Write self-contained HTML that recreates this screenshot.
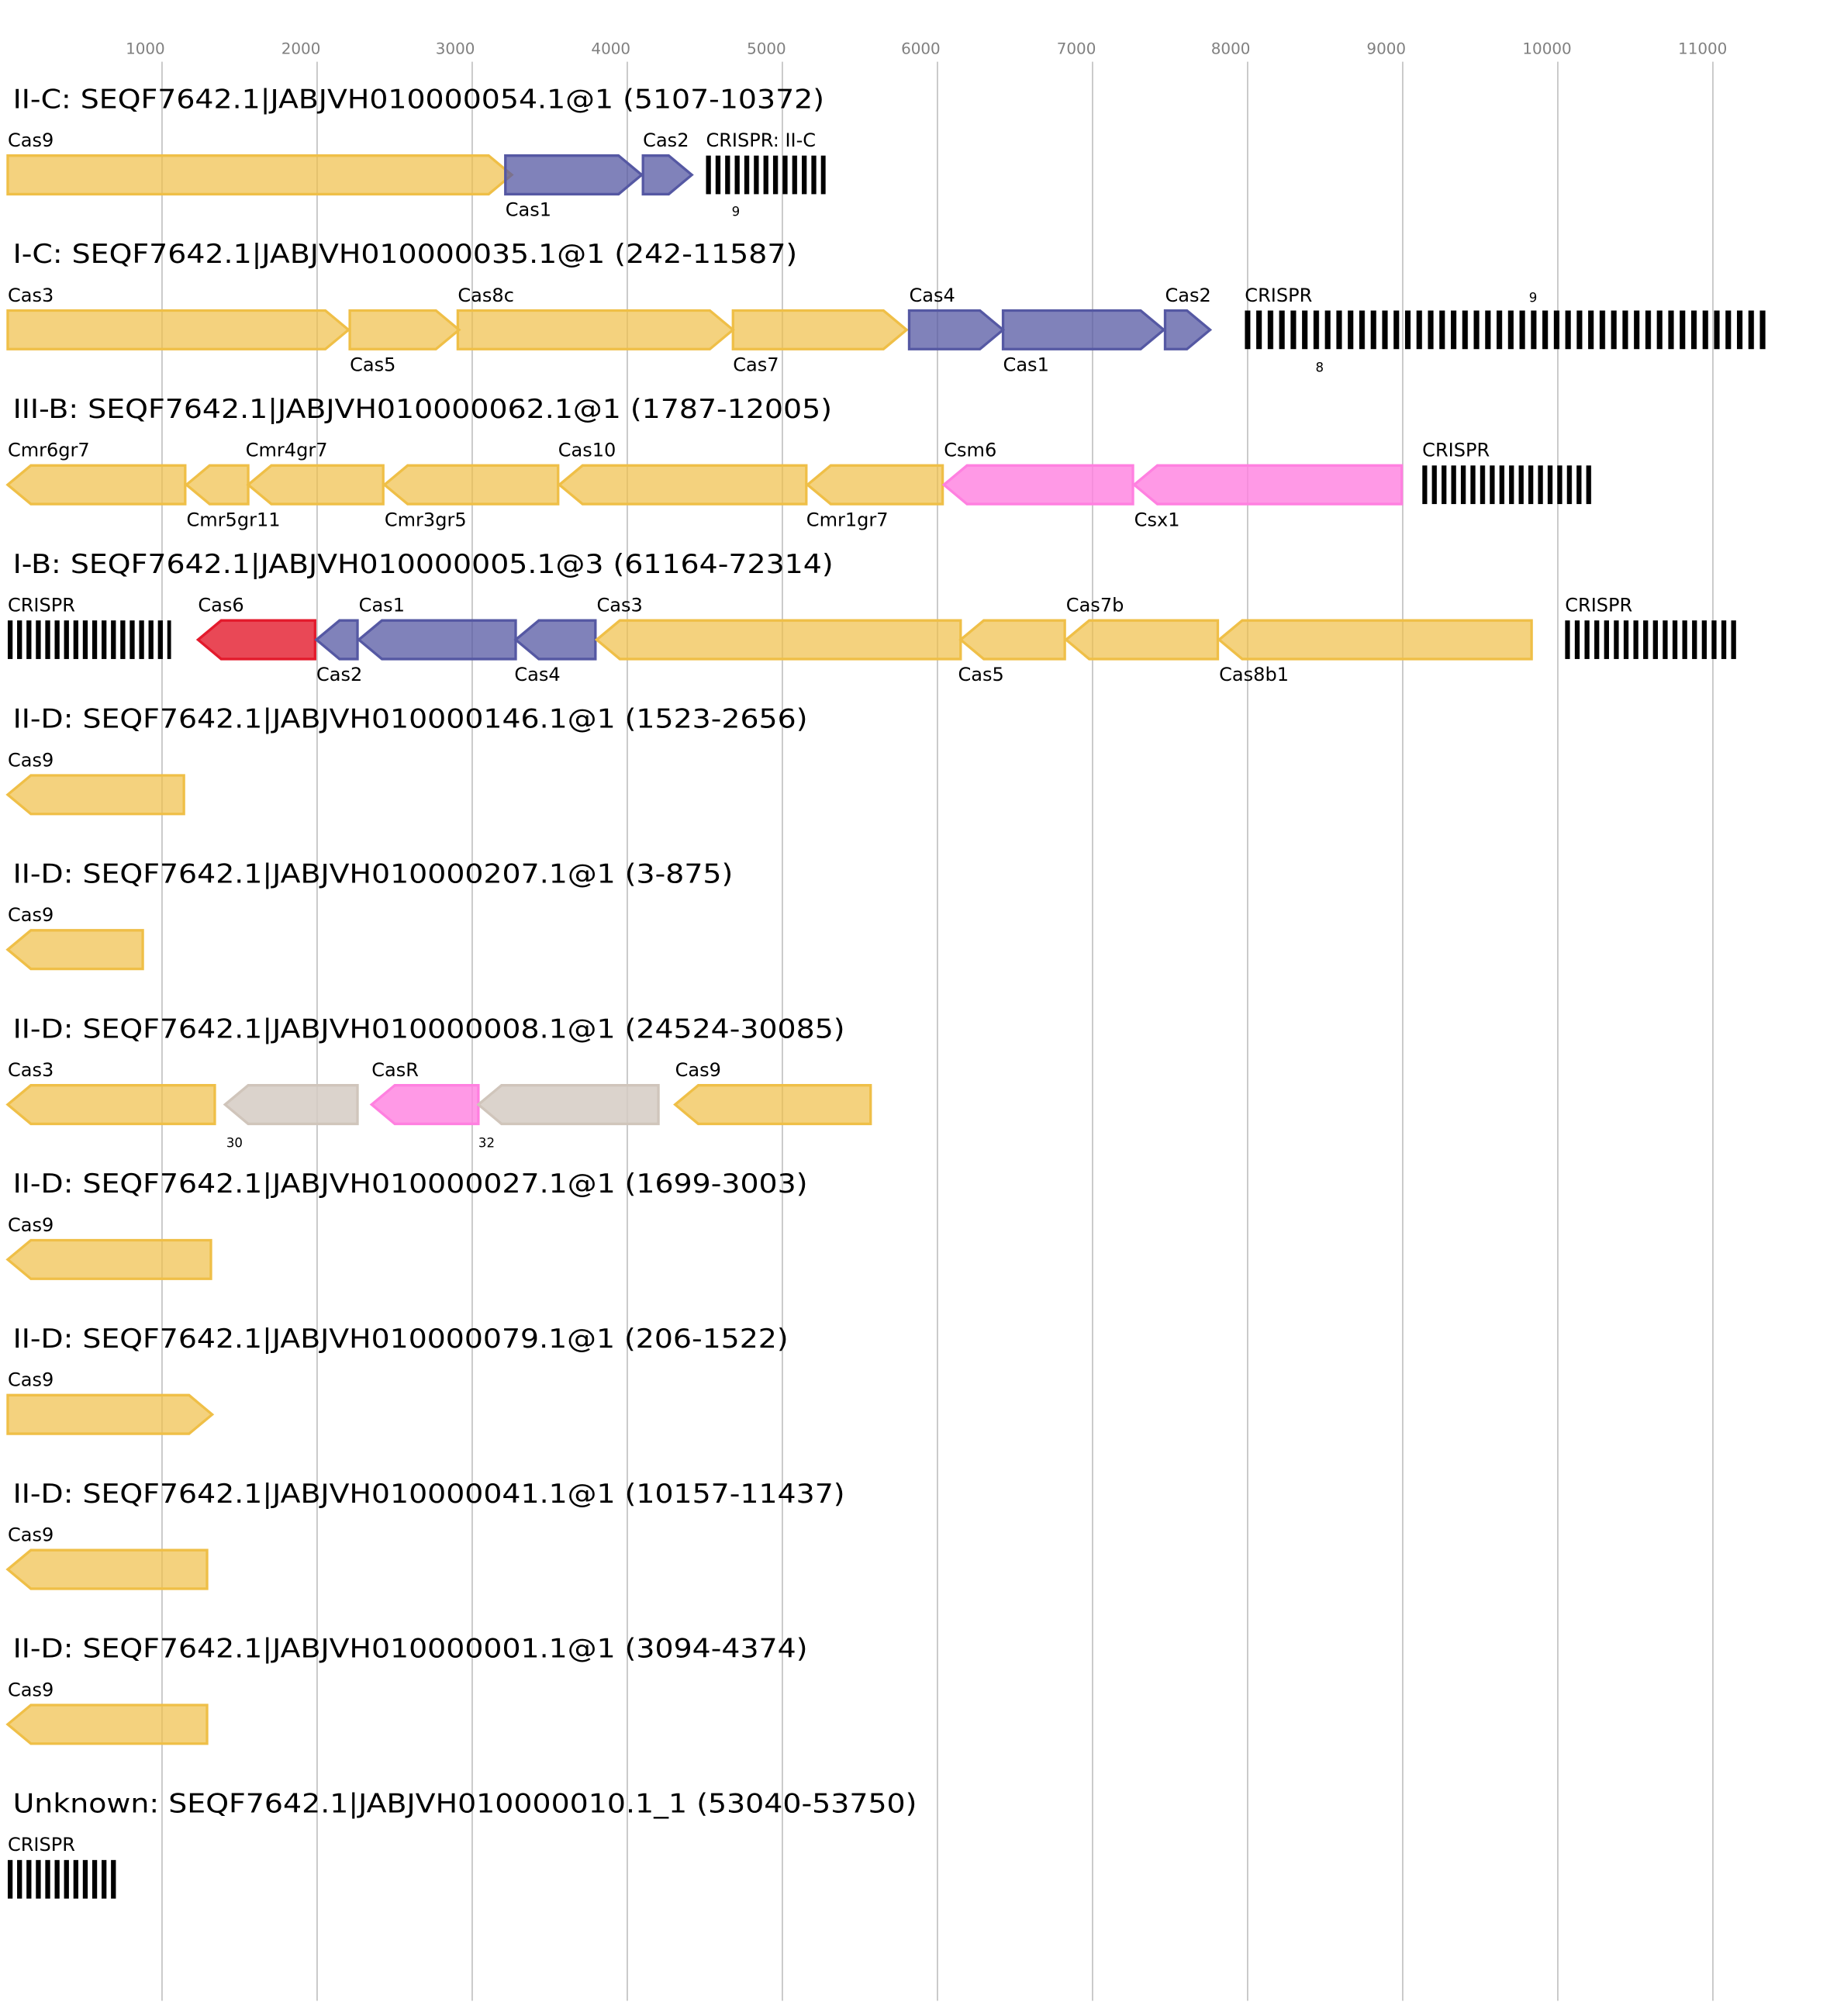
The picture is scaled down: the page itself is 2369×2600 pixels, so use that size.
<!DOCTYPE html>
<html><head><meta charset="utf-8"><style>html,body{margin:0;padding:0;background:#fff}svg{display:block}</style></head>
<body>
<svg xmlns="http://www.w3.org/2000/svg" width="2369" height="2600" viewBox="0 0 1428.5 1567.8" font-family="DejaVu Sans, Liberation Sans, sans-serif">
<defs>
<pattern id="cr" patternUnits="userSpaceOnUse" x="6" y="0" width="7.3" height="10"><rect x="0" y="0" width="3.8" height="10" fill="#000"/></pattern>
<pattern id="cr0" patternUnits="userSpaceOnUse" x="549" y="0" width="7.45" height="10"><rect x="0" y="0" width="3.8" height="10" fill="#000"/></pattern>
<pattern id="cr1" patternUnits="userSpaceOnUse" x="968" y="0" width="8.9" height="10"><rect x="0" y="0" width="4.3" height="10" fill="#000"/></pattern>
<pattern id="cr2" patternUnits="userSpaceOnUse" x="1106" y="0" width="7.5" height="10"><rect x="0" y="0" width="3.8" height="10" fill="#000"/></pattern>
<pattern id="cr3" patternUnits="userSpaceOnUse" x="1217" y="0" width="7.6" height="10"><rect x="0" y="0" width="3.8" height="10" fill="#000"/></pattern>
</defs>
<g stroke="#c0c0c0" stroke-width="1">
<line x1="126" y1="48" x2="126" y2="1556"/><line x1="246.6" y1="48" x2="246.6" y2="1556"/><line x1="367.2" y1="48" x2="367.2" y2="1556"/><line x1="487.8" y1="48" x2="487.8" y2="1556"/><line x1="608.4" y1="48" x2="608.4" y2="1556"/><line x1="729" y1="48" x2="729" y2="1556"/><line x1="849.6" y1="48" x2="849.6" y2="1556"/><line x1="970.2" y1="48" x2="970.2" y2="1556"/><line x1="1090.8" y1="48" x2="1090.8" y2="1556"/><line x1="1211.4" y1="48" x2="1211.4" y2="1556"/><line x1="1332" y1="48" x2="1332" y2="1556"/>
</g>
<g fill="#808080" font-size="12" text-anchor="middle">
<text x="113" y="42">1000</text><text x="234" y="42">2000</text><text x="354" y="42">3000</text><text x="475" y="42">4000</text><text x="596" y="42">5000</text><text x="716" y="42">6000</text><text x="837" y="42">7000</text><text x="957" y="42">8000</text><text x="1078" y="42">9000</text><text x="1203" y="42">10000</text><text x="1324" y="42">11000</text>
</g>
<g font-size="20.5" fill="#000">
<text x="10" y="84" textLength="631" lengthAdjust="spacingAndGlyphs">II-C: SEQF7642.1|JABJVH010000054.1@1 (5107-10372)</text>
<text x="10" y="204.5" textLength="610" lengthAdjust="spacingAndGlyphs">I-C: SEQF7642.1|JABJVH010000035.1@1 (242-11587)</text>
<text x="10" y="325" textLength="637" lengthAdjust="spacingAndGlyphs">III-B: SEQF7642.1|JABJVH010000062.1@1 (1787-12005)</text>
<text x="10" y="445.5" textLength="638" lengthAdjust="spacingAndGlyphs">I-B: SEQF7642.1|JABJVH010000005.1@3 (61164-72314)</text>
<text x="10" y="566" textLength="618" lengthAdjust="spacingAndGlyphs">II-D: SEQF7642.1|JABJVH010000146.1@1 (1523-2656)</text>
<text x="10" y="686.5" textLength="560" lengthAdjust="spacingAndGlyphs">II-D: SEQF7642.1|JABJVH010000207.1@1 (3-875)</text>
<text x="10" y="807" textLength="647" lengthAdjust="spacingAndGlyphs">II-D: SEQF7642.1|JABJVH010000008.1@1 (24524-30085)</text>
<text x="10" y="927.5" textLength="618" lengthAdjust="spacingAndGlyphs">II-D: SEQF7642.1|JABJVH010000027.1@1 (1699-3003)</text>
<text x="10" y="1048" textLength="603" lengthAdjust="spacingAndGlyphs">II-D: SEQF7642.1|JABJVH010000079.1@1 (206-1522)</text>
<text x="10" y="1168.5" textLength="647" lengthAdjust="spacingAndGlyphs">II-D: SEQF7642.1|JABJVH010000041.1@1 (10157-11437)</text>
<text x="10" y="1289" textLength="618" lengthAdjust="spacingAndGlyphs">II-D: SEQF7642.1|JABJVH010000001.1@1 (3094-4374)</text>
<text x="10" y="1409.5" textLength="703" lengthAdjust="spacingAndGlyphs">Unknown: SEQF7642.1|JABJVH010000010.1_1 (53040-53750)</text>
</g>
<g stroke-width="2">
<!-- row0 -->
<g>
<polygon points="6,121 380,121 398,136 380,151 6,151" fill="#efbf47" fill-opacity="0.7" stroke="#efbf47"/>
<polygon points="393,121 481,121 499,136 481,151 393,151" fill="#5558a3" fill-opacity="0.75" stroke="#5558a3"/>
<polygon points="500,121 520,121 538,136 520,151 500,151" fill="#5558a3" fill-opacity="0.75" stroke="#5558a3"/>
<rect x="549" y="121" width="93" height="30" fill="url(#cr0)" stroke="none"/>
</g>
<g transform="translate(0,120.5)">
<polygon points="6,121 253,121 271,136 253,151 6,151" fill="#efbf47" fill-opacity="0.7" stroke="#efbf47"/>
<polygon points="272,121 339,121 357,136 339,151 272,151" fill="#efbf47" fill-opacity="0.7" stroke="#efbf47"/>
<polygon points="356,121 552,121 570,136 552,151 356,151" fill="#efbf47" fill-opacity="0.7" stroke="#efbf47"/>
<polygon points="570,121 687,121 705,136 687,151 570,151" fill="#efbf47" fill-opacity="0.7" stroke="#efbf47"/>
<polygon points="707,121 762,121 780,136 762,151 707,151" fill="#5558a3" fill-opacity="0.75" stroke="#5558a3"/>
<polygon points="780,121 887,121 905,136 887,151 780,151" fill="#5558a3" fill-opacity="0.75" stroke="#5558a3"/>
<polygon points="906,121 923,121 941,136 923,151 906,151" fill="#5558a3" fill-opacity="0.75" stroke="#5558a3"/>
<rect x="968" y="121" width="407" height="30" fill="url(#cr1)" stroke="none"/>
</g>
<g transform="translate(0,241)">
<polygon points="6,136 24,121 144,121 144,151 24,151" fill="#efbf47" fill-opacity="0.7" stroke="#efbf47"/>
<polygon points="145,136 163,121 193,121 193,151 163,151" fill="#efbf47" fill-opacity="0.7" stroke="#efbf47"/>
<polygon points="193,136 211,121 298,121 298,151 211,151" fill="#efbf47" fill-opacity="0.7" stroke="#efbf47"/>
<polygon points="299,136 317,121 434,121 434,151 317,151" fill="#efbf47" fill-opacity="0.7" stroke="#efbf47"/>
<polygon points="435,136 453,121 627,121 627,151 453,151" fill="#efbf47" fill-opacity="0.7" stroke="#efbf47"/>
<polygon points="628,136 646,121 733,121 733,151 646,151" fill="#efbf47" fill-opacity="0.7" stroke="#efbf47"/>
<polygon points="734,136 752,121 881,121 881,151 752,151" fill="#ff80e0" fill-opacity="0.8" stroke="#ff80e0"/>
<polygon points="882,136 900,121 1090,121 1090,151 900,151" fill="#ff80e0" fill-opacity="0.8" stroke="#ff80e0"/>
<rect x="1106" y="121" width="134" height="30" fill="url(#cr2)" stroke="none"/>
</g>
<g transform="translate(0,361.5)">
<rect x="6" y="121" width="127" height="30" fill="url(#cr)" stroke="none"/>
<polygon points="154,136 172,121 245,121 245,151 172,151" fill="#e31a2c" fill-opacity="0.8" stroke="#e31a2c"/>
<polygon points="246,136 264,121 278,121 278,151 264,151" fill="#5558a3" fill-opacity="0.75" stroke="#5558a3"/>
<polygon points="279,136 297,121 401,121 401,151 297,151" fill="#5558a3" fill-opacity="0.75" stroke="#5558a3"/>
<polygon points="401,136 419,121 463,121 463,151 419,151" fill="#5558a3" fill-opacity="0.75" stroke="#5558a3"/>
<polygon points="464,136 482,121 747,121 747,151 482,151" fill="#efbf47" fill-opacity="0.7" stroke="#efbf47"/>
<polygon points="747,136 765,121 828,121 828,151 765,151" fill="#efbf47" fill-opacity="0.7" stroke="#efbf47"/>
<polygon points="829,136 847,121 947,121 947,151 847,151" fill="#efbf47" fill-opacity="0.7" stroke="#efbf47"/>
<polygon points="948,136 966,121 1191,121 1191,151 966,151" fill="#efbf47" fill-opacity="0.7" stroke="#efbf47"/>
<rect x="1217" y="121" width="136" height="30" fill="url(#cr3)" stroke="none"/>
</g>
<g transform="translate(0,482)"><polygon points="6,136 24,121 143,121 143,151 24,151" fill="#efbf47" fill-opacity="0.7" stroke="#efbf47"/></g>
<g transform="translate(0,602.5)"><polygon points="6,136 24,121 111,121 111,151 24,151" fill="#efbf47" fill-opacity="0.7" stroke="#efbf47"/></g>
<g transform="translate(0,723)">
<polygon points="6,136 24,121 167,121 167,151 24,151" fill="#efbf47" fill-opacity="0.7" stroke="#efbf47"/>
<polygon points="175,136 193,121 278,121 278,151 193,151" fill="#d5cbc3" fill-opacity="0.85" stroke="#d0c5bb"/>
<polygon points="289,136 307,121 372,121 372,151 307,151" fill="#ff80e0" fill-opacity="0.8" stroke="#ff80e0"/>
<polygon points="372,136 390,121 512,121 512,151 390,151" fill="#d5cbc3" fill-opacity="0.85" stroke="#d0c5bb"/>
<polygon points="525,136 543,121 677,121 677,151 543,151" fill="#efbf47" fill-opacity="0.7" stroke="#efbf47"/>
</g>
<g transform="translate(0,843.5)"><polygon points="6,136 24,121 164,121 164,151 24,151" fill="#efbf47" fill-opacity="0.7" stroke="#efbf47"/></g>
<g transform="translate(0,964)"><polygon points="6,121 147,121 165,136 147,151 6,151" fill="#efbf47" fill-opacity="0.7" stroke="#efbf47"/></g>
<g transform="translate(0,1084.5)"><polygon points="6,136 24,121 161,121 161,151 24,151" fill="#efbf47" fill-opacity="0.7" stroke="#efbf47"/></g>
<g transform="translate(0,1205)"><polygon points="6,136 24,121 161,121 161,151 24,151" fill="#efbf47" fill-opacity="0.7" stroke="#efbf47"/></g>
<g transform="translate(0,1325.5)"><rect x="6" y="121" width="87" height="30" fill="url(#cr)" stroke="none"/></g>
</g>
<g font-size="14.5" fill="#000">
<text x="6" y="114">Cas9</text><text x="393" y="168">Cas1</text><text x="500" y="114">Cas2</text><text x="549" y="114">CRISPR: II-C</text>
<g transform="translate(0,120.5)"><text x="6" y="114">Cas3</text><text x="272" y="168">Cas5</text><text x="356" y="114">Cas8c</text><text x="570" y="168">Cas7</text><text x="707" y="114">Cas4</text><text x="780" y="168">Cas1</text><text x="906" y="114">Cas2</text><text x="968" y="114">CRISPR</text></g>
<g transform="translate(0,241)"><text x="6" y="114">Cmr6gr7</text><text x="145" y="168">Cmr5gr11</text><text x="191" y="114">Cmr4gr7</text><text x="299" y="168">Cmr3gr5</text><text x="434" y="114">Cas10</text><text x="627" y="168">Cmr1gr7</text><text x="734" y="114">Csm6</text><text x="882" y="168">Csx1</text><text x="1106" y="114">CRISPR</text></g>
<g transform="translate(0,361.5)"><text x="6" y="114">CRISPR</text><text x="154" y="114">Cas6</text><text x="246" y="168">Cas2</text><text x="279" y="114">Cas1</text><text x="400" y="168">Cas4</text><text x="464" y="114">Cas3</text><text x="745" y="168">Cas5</text><text x="829" y="114">Cas7b</text><text x="948" y="168">Cas8b1</text><text x="1217" y="114">CRISPR</text></g>
<g transform="translate(0,482)"><text x="6" y="114">Cas9</text></g>
<g transform="translate(0,602.5)"><text x="6" y="114">Cas9</text></g>
<g transform="translate(0,723)"><text x="6" y="114">Cas3</text><text x="289" y="114">CasR</text><text x="525" y="114">Cas9</text></g>
<g transform="translate(0,843.5)"><text x="6" y="114">Cas9</text></g>
<g transform="translate(0,964)"><text x="6" y="114">Cas9</text></g>
<g transform="translate(0,1084.5)"><text x="6" y="114">Cas9</text></g>
<g transform="translate(0,1205)"><text x="6" y="114">Cas9</text></g>
<g transform="translate(0,1325.5)"><text x="6" y="114">CRISPR</text></g>
</g>
<g font-size="10" fill="#000">
<text x="569" y="168">9</text>
<text x="1189" y="235">9</text><text x="1023" y="289">8</text>
<text x="176" y="892">30</text><text x="372" y="892">32</text>
</g>
</svg>
</body></html>
